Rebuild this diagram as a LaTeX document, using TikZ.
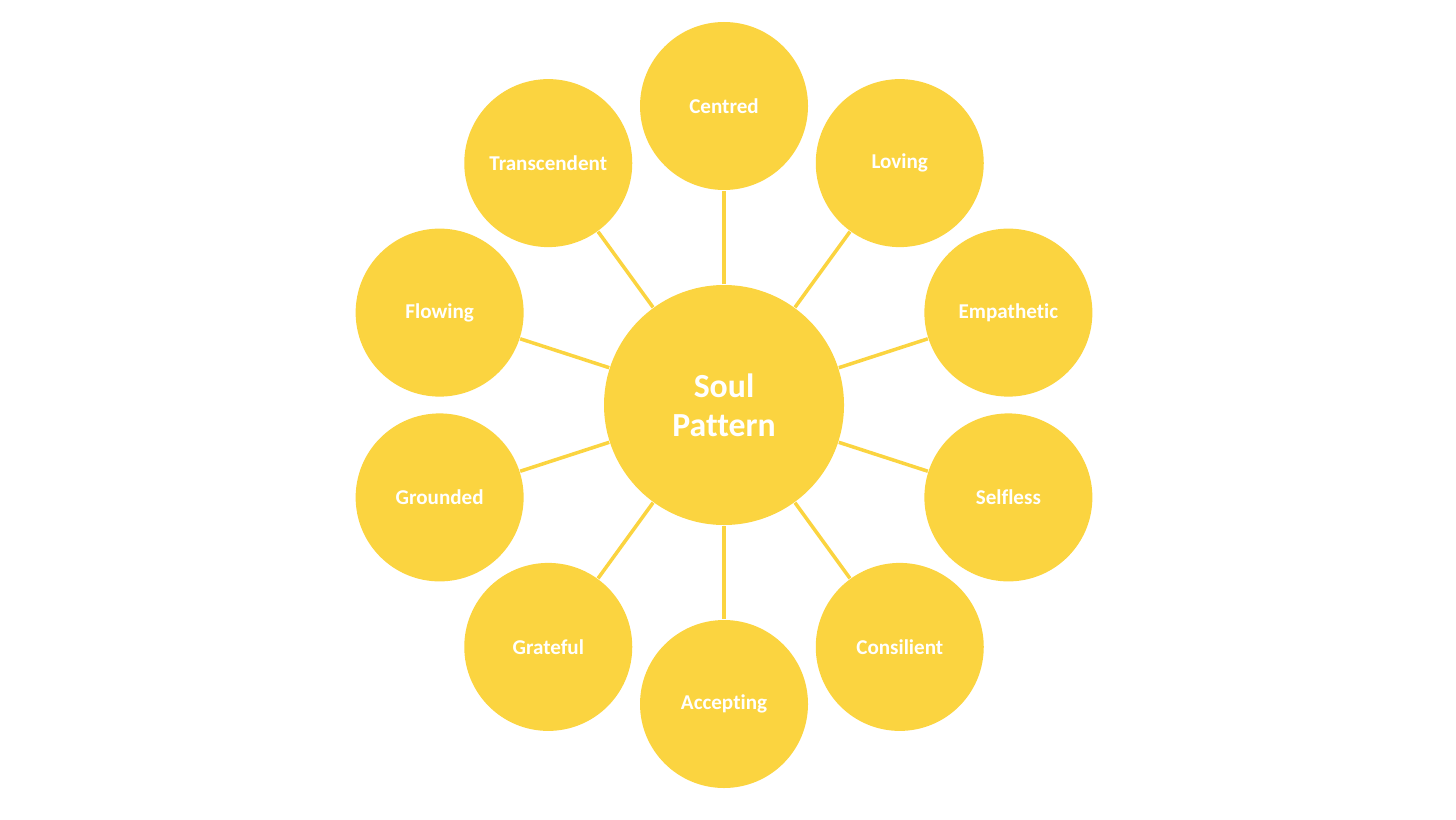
\documentclass[tikz,border=0pt]{standalone}
\usepackage{fontspec}
\setmainfont[Ligatures=NoCommon]{Carlito}
\usepackage{xcolor}
\usepackage{tikz}
\usetikzlibrary{positioning,calc}
\definecolor{soulgold}{HTML}{FBD440}

\begin{document}
\begin{tikzpicture}[font=\bfseries,
    petal/.style={circle,fill=soulgold,text=white,minimum size=1.68cm,inner sep=0pt,font=\fontsize{6}{7}\selectfont\bfseries},
    hub/.style={circle,fill=soulgold,text=white,minimum size=2.4cm,inner sep=0pt,align=center,font=\fontsize{9.6}{11}\selectfont\bfseries},
    stem/.style={draw=soulgold,line width=1pt}]
  \useasboundingbox (0,0) rectangle (14.56,8.19);
  \node[hub] (c) at (7.24,4.14) {Soul\\Pattern};
  % ten petals round the hub
  \foreach \a/\w [count=\i] in {90/Centred,54/Loving,18/Empathetic,-18/Selfless,
      -54/Consilient,-90/Accepting,-126/Grateful,-162/Grounded,162/Flowing,126/Transcendent}
  {
    \node[petal] (p\i) at ($(c)+(\a:2.99)$) {\w};
    \draw[stem] (c) -- (p\i);
  }
\end{tikzpicture}
\end{document}
